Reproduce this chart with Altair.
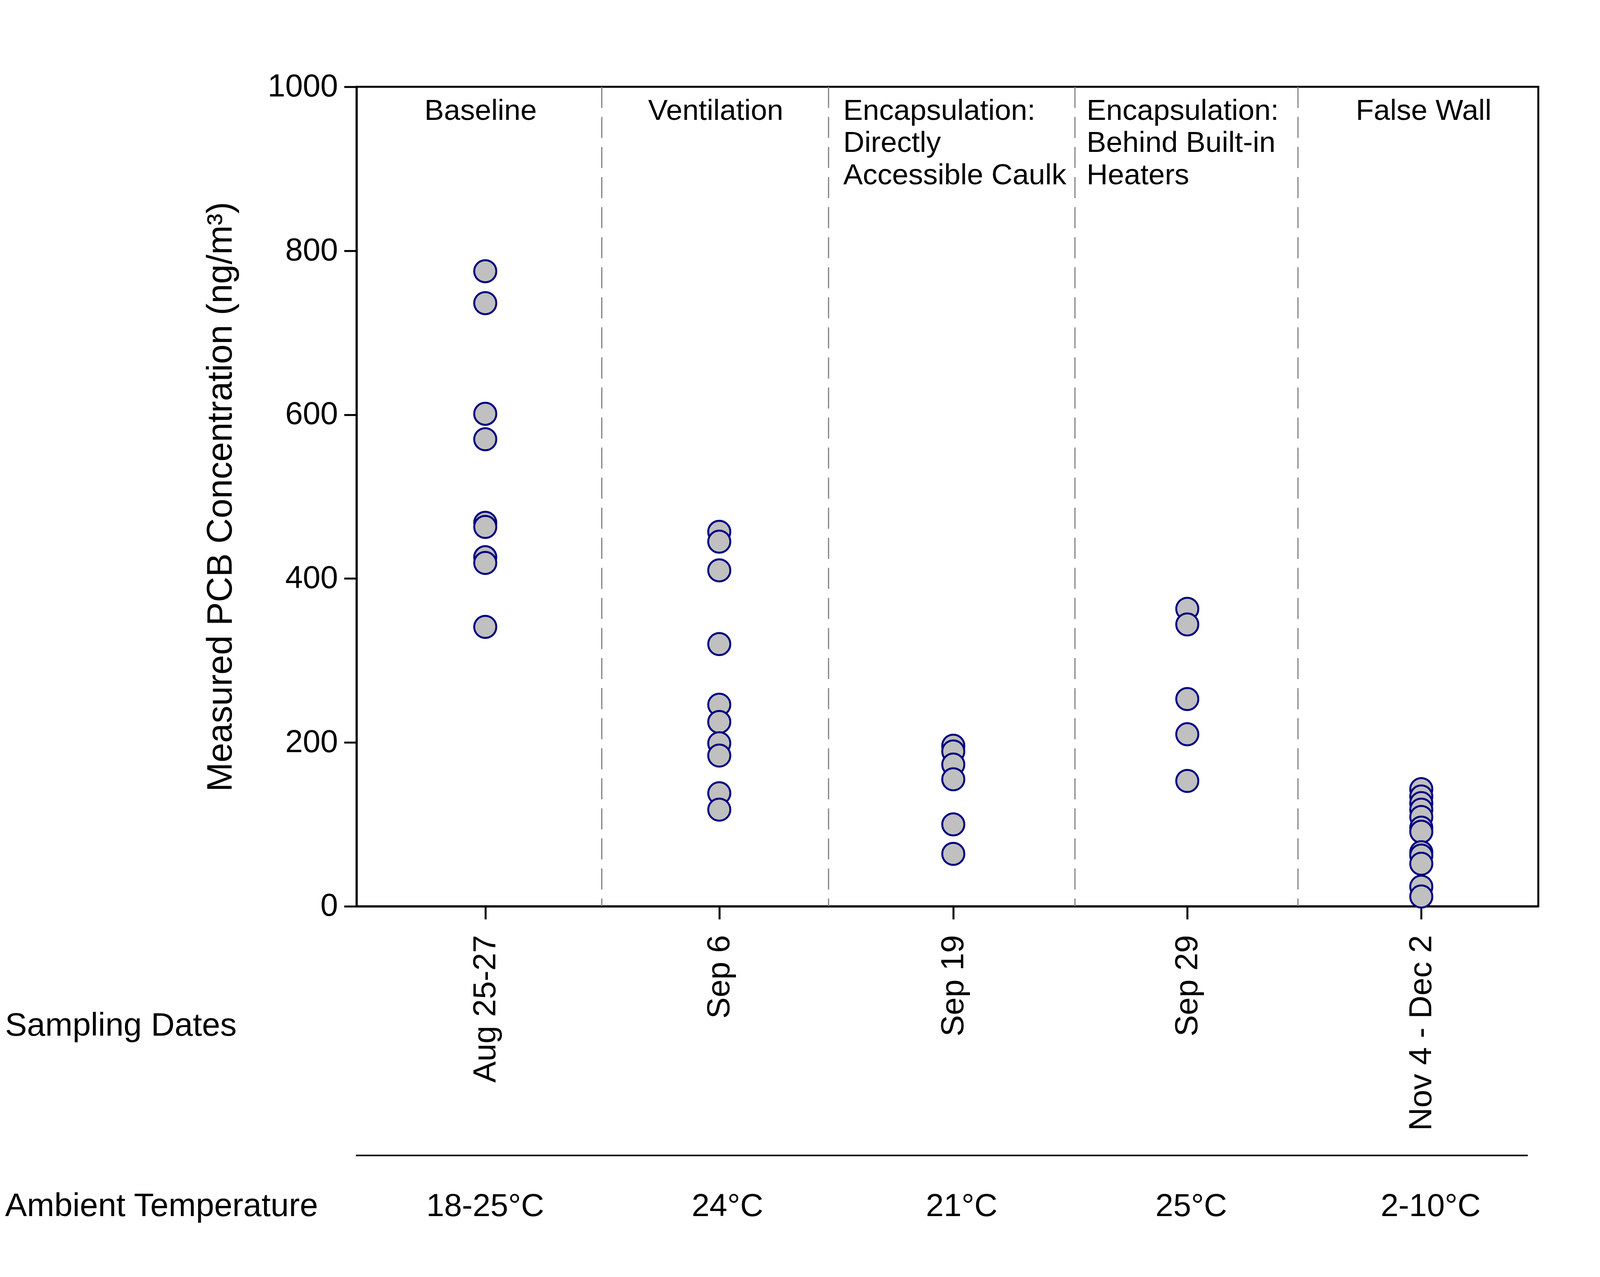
import altair as alt
import pandas as pd

# ---- data ----
group_pos = [1, 2, 3, 4, 5]
baseline_vals = [775, 736, 601, 570, 468, 463, 426, 419, 341]
ventilation_vals = [457, 445, 410, 320, 246, 225, 199, 184, 138, 118]
encap_direct_vals = [196, 189, 173, 155, 100, 64]
encap_heaters_vals = [363, 344, 253, 210, 153]
false_wall_vals = [143, 134, 126, 118, 109, 96, 91, 66, 62, 52, 24, 12]

sampling_dates = ["Aug 25-27", "Sep 6", "Sep 19", "Sep 29", "Nov 4 - Dec 2"]
temperatures = ["18-25°C", "24°C", "21°C", "25°C", "2-10°C"]
temp_x = [1.0, 2.035, 3.036, 4.017, 5.04]
divider_pos = [1.498, 2.467, 3.52, 4.473]
y_ticks = [0, 200, 400, 600, 800, 1000]

center_labels = ["Baseline", "Ventilation", "False Wall"]
center_label_x = [0.98, 1.985, 5.01]
left_labels = ["Encapsulation:\nDirectly\nAccessible Caulk", "Encapsulation:\nBehind Built-in\nHeaters"]
left_label_x = [2.53, 3.57]
label_y = 988

row_titles = ["Sampling Dates", "Ambient Temperature"]
row_title_x = -1.052
row_title_y = [-146, -366]
temp_y = -366
sep_line_x = [0.447, 5.455]
sep_line_y = -304

FONT = "Liberation Sans"
FS = 75
FS_OUT = 82

# ---- tables ----
all_vals = [baseline_vals, ventilation_vals, encap_direct_vals, encap_heaters_vals, false_wall_vals]
pts = pd.DataFrame(
    [{"x": g, "y": v} for g, vals in zip(group_pos, all_vals) for v in vals]
)
div_df = pd.DataFrame({"x": divider_pos})
cl_df = pd.DataFrame({"x": center_label_x, "y": [label_y] * 3, "t": center_labels})
ll_df = pd.DataFrame({"x": left_label_x, "y": [label_y] * 2, "t": left_labels})
temp_df = pd.DataFrame({"x": temp_x, "y": [temp_y] * 5, "t": temperatures})
row_df = pd.DataFrame({"x": [row_title_x] * 2, "y": row_title_y, "t": row_titles})
sep_df = pd.DataFrame({"x": [sep_line_x[0]], "x2": [sep_line_x[1]], "y": [sep_line_y]})

xs = alt.Scale(domain=[0.45, 5.5], nice=False, zero=False)
ys = alt.Scale(domain=[0, 1000], nice=False, zero=False)

label_expr = "[" + ",".join("'" + d + "'" for d in sampling_dates) + "][datum.value - 1]"

X_AXIS = alt.Axis(
    values=group_pos, labelExpr=label_expr, labelAngle=270, title=None,
    grid=False, tickSize=33, labelPadding=40, labelLimit=2000, labelFontSize=FS_OUT)
Y_AXIS = alt.Axis(
    values=y_ticks, format="d", grid=False, tickSize=32, labelPadding=16,
    labelLimit=2000, labelFontSize=81,
    title="Measured PCB Concentration (ng/m³)", titlePadding=101,
    titleFontSize=90, titleFont=FONT, titleFontWeight="normal", titleColor="black")


def X():
    return alt.X("x:Q", scale=xs, axis=X_AXIS)


def Y():
    return alt.Y("y:Q", scale=ys, axis=Y_AXIS)


points = alt.Chart(pts).mark_point(
    shape="circle", filled=True, size=3200, fill="#C0C0C0", stroke="#000080",
    strokeWidth=5, opacity=1, fillOpacity=1, strokeOpacity=1
).encode(x=X(), y=Y())

dividers = alt.Chart(div_df).mark_rule(
    color="#808080", strokeWidth=3, strokeDash=[54, 23]
).encode(x=X())

center_text = alt.Chart(cl_df).mark_text(
    font=FONT, fontSize=FS, align="center", baseline="top", color="black"
).encode(x=X(), y=Y(), text="t:N")

left_text = alt.Chart(ll_df).mark_text(
    font=FONT, fontSize=FS, align="left", baseline="top", color="black",
    lineBreak="\n", lineHeight=83
).encode(x=X(), y=Y(), text="t:N")

temp_text = alt.Chart(temp_df).mark_text(
    font=FONT, fontSize=FS_OUT, align="center", baseline="middle", color="black"
).encode(x=X(), y=Y(), text="t:N")

row_text = alt.Chart(row_df).mark_text(
    font=FONT, fontSize=84, align="left", baseline="middle", color="black"
).encode(x=X(), y=Y(), text="t:N")

sep_line = alt.Chart(sep_df).mark_rule(color="black", strokeWidth=4).encode(
    x=X(), x2="x2:Q", y=Y()
)

chart = alt.layer(
    dividers, points, center_text, left_text, temp_text, row_text, sep_line
).properties(
    width=3026, height=2099,
    padding={"left": 905, "top": 214, "right": 150, "bottom": 920},
    autosize=alt.AutoSizeParams(type="none"),
    background="white",
).configure_view(
    stroke="black", strokeWidth=5
).configure_axis(
    domainColor="black", domainWidth=5, tickColor="black", tickWidth=5,
    labelFont=FONT, labelFontSize=FS, labelColor="black",
)

chart.save("out.html", embed_options={"renderer": "svg", "actions": False})
